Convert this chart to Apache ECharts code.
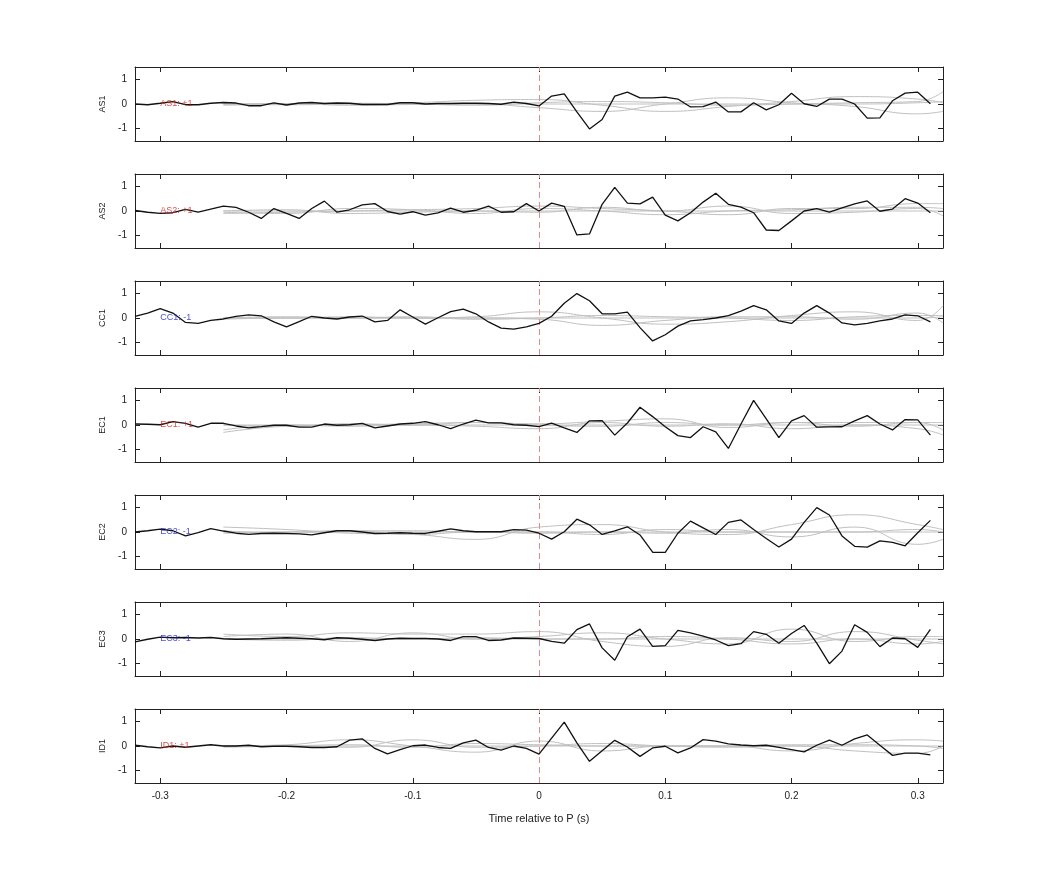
<!DOCTYPE html>
<html><head><meta charset="utf-8">
<script src="https://cdn.jsdelivr.net/npm/echarts@6/dist/echarts.min.js"></script>
<style>html,body{margin:0;padding:0;background:#fff}#c{width:1042px;height:875px}</style>
</head><body><div id="c"></div>
<script>
const times = [-0.32,-0.31,-0.30,-0.29,-0.28,-0.27,-0.26,-0.25,-0.24,-0.23,-0.22,-0.21,-0.20,-0.19,-0.18,-0.17,-0.16,-0.15,-0.14,-0.13,-0.12,-0.11,-0.10,-0.09,-0.08,-0.07,-0.06,-0.05,-0.04,-0.03,-0.02,-0.01,0.00,
0.01,0.02,0.03,0.04,0.05,0.06,0.07,0.08,0.09,0.10,0.11,0.12,0.13,0.14,0.15,0.16,0.17,0.18,0.19,0.20,0.21,0.22,0.23,0.24,0.25,0.26,0.27,0.28,0.29,0.30,0.31];
const channels = ['AS1','AS2','CC1','EC1','EC2','EC3','ID1'];
const labels = ['AS1: +1','AS2: +1','CC1: -1','EC1: +1','EC2: -1','EC3: -1','ID1: +1'];
const labelColors = ['#d42020','#d42020','#2020c8','#d42020','#2020c8','#2020c8','#d42020'];
const xTicks = [-0.3,-0.2,-0.1,0,0.1,0.2,0.3];
const yTicks = [-1,0,1];

const AS1 = [0,-0.03,0.03,0.1,-0.03,-0.03,0.03,0.06,0.04,-0.07,-0.07,0.05,-0.04,0.04,0.06,0.02,0.04,0.03,-0.02,-0.02,-0.02,0.05,0.05,0,0.02,0.02,0.03,0.03,0.02,-0.01,0.08,0.02,-0.08,
0.32,0.41,-0.32,-1.01,-0.63,0.32,0.48,0.25,0.25,0.28,0.2,-0.12,-0.11,0.08,-0.32,-0.32,0.05,-0.24,-0.03,0.44,0.01,-0.1,0.2,0.2,0,-0.57,-0.56,0.13,0.44,0.48,0.01];
const AS2 = [0.02,-0.05,-0.1,-0.07,0.07,-0.05,0.08,0.2,0.15,-0.05,-0.3,0.1,-0.1,-0.3,0.1,0.4,-0.05,0.05,0.25,0.3,-0.02,-0.13,-0.03,-0.17,-0.08,0.12,-0.05,0.03,0.2,-0.05,-0.03,0.3,0,
0.32,0.19,-0.97,-0.93,0.27,0.96,0.32,0.29,0.56,-0.17,-0.4,-0.07,0.36,0.72,0.27,0.16,-0.07,-0.77,-0.79,-0.4,0,0.1,-0.05,0.13,0.29,0.41,-0.01,0.08,0.5,0.32,-0.07];
const CC1 = [0.07,0.2,0.38,0.2,-0.18,-0.22,-0.1,-0.04,0.07,0.13,0.09,-0.16,-0.36,-0.15,0.07,0,-0.04,0.04,0.08,-0.16,-0.1,0.33,0.04,-0.25,0.01,0.26,0.36,0.17,-0.16,-0.41,-0.45,-0.36,-0.22,
0.07,0.6,0.99,0.7,0.17,0.17,0.24,-0.39,-0.93,-0.68,-0.33,-0.12,-0.07,0,0.1,0.28,0.5,0.33,-0.12,-0.22,0.2,0.5,0.2,-0.2,-0.28,-0.22,-0.12,-0.04,0.13,0.09,-0.16];
const EC1 = [0.04,0.03,0.01,0.14,0.07,-0.09,0.07,0.07,-0.04,-0.12,-0.07,-0.01,-0.01,-0.09,-0.09,0.04,-0.01,0.01,0.07,-0.12,-0.04,0.04,0.07,0.14,0.01,-0.15,0.04,0.2,0.09,0.09,0.01,-0.01,-0.07,
0.08,-0.12,-0.3,0.17,0.18,-0.41,0.08,0.72,0.34,-0.07,-0.43,-0.51,-0.07,-0.28,-0.95,0.04,1.0,0.25,-0.51,0.17,0.38,-0.09,-0.08,-0.07,0.17,0.38,0.04,-0.2,0.22,0.21,-0.41];
const EC2 = [0,0.05,0.12,0.05,-0.16,-0.03,0.14,0.04,-0.05,-0.1,-0.06,-0.05,-0.06,-0.08,-0.12,-0.03,0.05,0.05,0,-0.06,-0.05,-0.03,-0.05,-0.06,0.03,0.13,0.05,0.01,0.01,0.01,0.1,0.08,-0.05,
-0.29,0.01,0.52,0.29,-0.1,0.05,0.21,-0.12,-0.82,-0.83,-0.05,0.44,0.17,-0.1,0.39,0.49,0.1,-0.26,-0.61,-0.29,0.39,0.99,0.69,-0.16,-0.58,-0.61,-0.36,-0.42,-0.56,-0.03,0.47];
const EC3 = [-0.12,-0.01,0.08,0.05,0.06,0.04,0.06,0.01,-0.01,0,0.01,0.03,0.05,0.03,0.01,-0.03,0.05,0.03,-0.01,-0.06,0,0.03,0.02,0.02,0,-0.06,0.1,0.1,-0.06,-0.04,0.04,0.03,0.02,
-0.1,-0.17,0.38,0.61,-0.36,-0.86,0.09,0.4,-0.3,-0.27,0.35,0.25,0.12,-0.04,-0.27,-0.19,0.3,0.19,-0.17,0.22,0.55,-0.17,-1.0,-0.49,0.58,0.27,-0.31,0.04,0.01,-0.34,0.39];
const ID1 = [0.03,-0.03,-0.08,0,-0.05,0,0.05,0,0,0.03,-0.03,-0.01,-0.01,-0.03,-0.06,-0.06,-0.03,0.24,0.29,-0.1,-0.32,-0.15,0.01,0.04,-0.06,-0.1,0.13,0.24,-0.06,-0.17,0,-0.1,-0.33,
0.32,0.97,0.13,-0.62,-0.19,0.23,-0.04,-0.42,-0.08,-0.01,-0.28,-0.08,0.26,0.2,0.09,0.04,0.01,0.03,-0.06,-0.15,-0.24,0.03,0.24,0.03,0.29,0.45,0.03,-0.38,-0.29,-0.29,-0.36];
const blackSeries = [AS1,AS2,CC1,EC1,EC2,EC3,ID1];

// grey comparison traces, sampled every 0.05 s
const greyTimes = [-0.25,-0.20,-0.15,-0.10,-0.05,0.00,0.05,0.10,0.15,0.20,0.25,0.30,0.32];
const greyAS1 = [[0,-0.03,0,0.05,0.15,0.18,-0.05,-0.3,-0.1,0.1,0.3,0.2,0.05],[0,0.02,-0.05,-0.02,0,-0.15,-0.3,0,0.25,0.05,-0.1,-0.4,-0.3],[-0.05,0,0.03,0,-0.05,0.05,0.1,0.05,-0.05,0,0.05,0.1,0.5],[0,0,0,0,0,0,0,0,0,0,0,0.05,0.1]];
const greyAS2 = [[-0.1,-0.05,0,0.05,0.1,0.2,0.1,0,-0.15,0.1,0.1,0.3,0.3],[0,0.05,-0.1,-0.05,0,-0.05,0.15,0,0.2,-0.1,-0.05,0.1,-0.2],[-0.05,-0.1,0.1,0.05,-0.1,0.1,0,-0.15,0,0.05,0.15,0.15,0.1],[0,0,0,0,0,0,0,0,0,0,0,0,0]];
const greyCC1 = [[0,0.05,0,0,0.05,0.25,0,-0.25,-0.15,0.1,0.25,-0.1,0.5],[0,0,0.05,0,0,-0.05,-0.3,-0.1,0.05,0.05,-0.05,0.2,-0.2],[-0.05,0,0,0.05,-0.05,0,0.1,0.05,0,-0.1,0.05,0.1,0.1],[0,0,0,0,0,0,0,0,0,0,0,0,0.05]];
const greyEC1 = [[-0.3,-0.05,0,0.05,0.1,0.05,0.15,0.25,-0.1,0.1,0.1,0.1,-0.2],[-0.2,0,-0.05,0,-0.05,-0.15,0.1,-0.05,0.05,-0.15,0,-0.15,-0.4],[0,-0.05,0.05,0,0.1,0,-0.05,0.1,0,0.1,-0.05,0.1,0.1],[0,0,0,0,0,0,0,0,0,0,0,0,0]];
const greyEC2 = [[0.2,0.1,-0.05,-0.1,-0.3,0.2,0.3,0,-0.1,0.3,0.7,0.3,0.1],[0.05,-0.05,0.05,-0.1,0,-0.05,0,-0.05,0.1,-0.2,0.2,-0.5,-0.3],[-0.05,0,0.05,0.05,0,0,-0.1,0.1,0,0,0,0.1,0],[0,0,0,0,0,0,0,0,0,0,0,0,0]];
const greyEC3 = [[0.2,0.1,0.25,0.2,0.2,0.3,-0.1,-0.3,0.05,-0.1,0.3,-0.05,-0.2],[0.1,0.2,-0.1,0.25,0,0.1,0.25,0,-0.2,0.4,-0.1,0.1,0.1],[0,-0.05,0.05,0,0.05,0,0,0.1,0,-0.2,0,-0.2,-0.1],[0,0,0,0,0,0,0,0,0,0,0,0,0]];
const greyID1 = [[0,0.05,0.25,0,-0.25,0.2,-0.2,0,0,-0.2,0.1,0.25,0.2],[0,0,-0.05,0.25,-0.05,0,0.1,0,-0.05,0,-0.2,-0.3,0],[-0.05,0,0.05,-0.05,0.1,0.05,0,0,0,0.05,0.05,0,-0.1],[0,0,0,0,0,0,0,0,0,0,0,0,0]];
const greyAll = [greyAS1,greyAS2,greyCC1,greyEC1,greyEC2,greyEC3,greyID1];

const font = 'Liberation Sans';
const grid=[],xAxis=[],yAxis=[],series=[],graphic=[];
channels.forEach((ch,i)=>{
  const top = 67 + 107*i;
  grid.push({left:135,width:808,top:top,height:74});
  const last = i===channels.length-1;
  const xb = {gridIndex:i,type:'value',min:-0.32,max:0.32,position:'bottom',
    axisLine:{show:true,onZero:false,lineStyle:{color:'#222',width:1}},
    axisTick:{show:true,inside:true,length:5,customValues:xTicks,lineStyle:{color:'#222'}},
    axisLabel:{show:last,customValues:xTicks,color:'#222',fontSize:10,fontFamily:font,margin:8,formatter:v=>String(v)},
    splitLine:{show:false}};
  if(last){xb.name='Time relative to P (s)';xb.nameLocation='middle';xb.nameGap=30;xb.nameTextStyle={color:'#222',fontSize:11,fontFamily:font};}
  xAxis.push(xb);
  xAxis.push({gridIndex:i,type:'value',min:-0.32,max:0.32,position:'top',
    axisLine:{show:true,onZero:false,lineStyle:{color:'#222'}},
    axisTick:{show:true,inside:true,length:5,customValues:xTicks,lineStyle:{color:'#222'}},
    axisLabel:{show:false},splitLine:{show:false}});
  yAxis.push({gridIndex:i,type:'value',min:-1.5,max:1.5,position:'left',
    name:ch,nameLocation:'middle',nameGap:23,nameRotate:90,nameTextStyle:{color:'#222',fontSize:9,fontFamily:font},
    axisLine:{show:true,onZero:false,lineStyle:{color:'#222'}},
    axisTick:{show:true,inside:true,length:5,customValues:yTicks,lineStyle:{color:'#222'}},
    axisLabel:{customValues:yTicks,color:'#222',fontSize:10,fontFamily:font,margin:8},
    splitLine:{show:false}});
  yAxis.push({gridIndex:i,type:'value',min:-1.5,max:1.5,position:'right',
    axisLine:{show:true,onZero:false,lineStyle:{color:'#222'}},
    axisTick:{show:true,inside:true,length:5,customValues:yTicks,lineStyle:{color:'#222'}},
    axisLabel:{show:false},splitLine:{show:false}});
  greyAll[i].forEach(g=>{
    series.push({type:'line',xAxisIndex:2*i,yAxisIndex:2*i,data:greyTimes.map((t,k)=>[t,g[k]]),
      smooth:0.5,showSymbol:false,silent:true,lineStyle:{color:'#c0c0c0',width:1},z:2});
  });
  series.push({type:'line',xAxisIndex:2*i,yAxisIndex:2*i,data:times.map((t,k)=>[t,blackSeries[i][k]]),
    showSymbol:false,lineStyle:{color:'#111',width:1.3},z:5,
    markLine:{silent:true,symbol:'none',label:{show:false},lineStyle:{color:'#e58a8a',type:[6,4],width:1},data:[{xAxis:0}]}});
  series.push({type:'scatter',xAxisIndex:2*i,yAxisIndex:2*i,data:[[-0.3,0]],symbolSize:0,silent:true,z:6,
    label:{show:true,position:'right',distance:0,formatter:labels[i],color:labelColors[i],fontSize:9,fontFamily:font}});
});
const chart = echarts.init(document.getElementById('c'),null,{renderer:'canvas'});
chart.setOption({animation:false,backgroundColor:'#fff',grid,xAxis,yAxis,series});
</script></body></html>
